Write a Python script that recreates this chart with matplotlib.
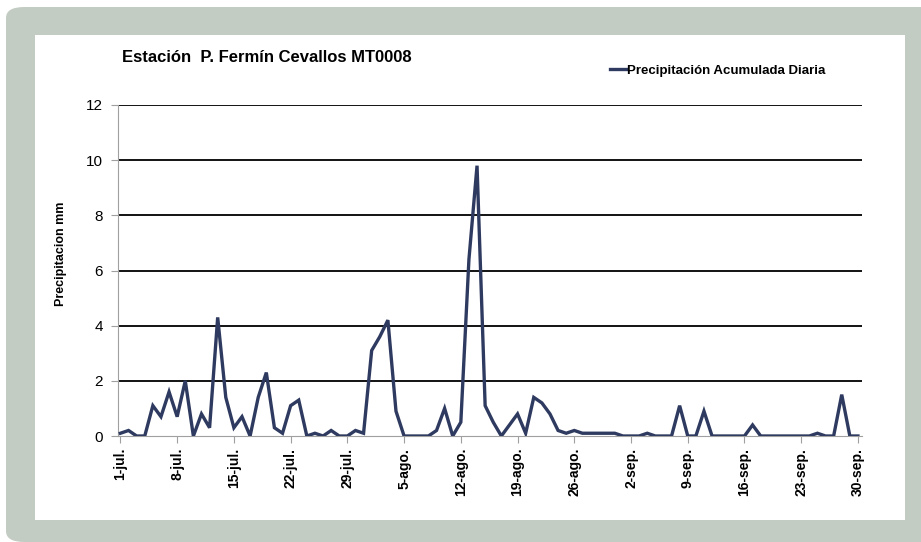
import numpy as np
import matplotlib.pyplot as plt
from matplotlib.patches import FancyBboxPatch, Rectangle

plt.rcParams['font.family'] = ['Liberation Sans Narrow', 'Liberation Sans', 'DejaVu Sans']

# precipitacion diaria, 1-jul a 30-sep (mm)
precip = [0.1, 0.2, 0, 0, 1.1, 0.7, 1.6, 0.7, 2.0, 0,
          0.8, 0.3, 4.3, 1.4, 0.3, 0.7, 0, 1.4, 2.3, 0.3,
          0.1, 1.1, 1.3, 0, 0.1, 0, 0.2, 0, 0, 0.2,
          0.1, 3.1, 3.6, 4.2, 0.9, 0, 0, 0, 0, 0.2,
          1.0, 0, 0.5, 6.4, 9.8, 1.1, 0.5, 0, 0.4, 0.8,
          0.1, 1.4, 1.2, 0.8, 0.2, 0.1, 0.2, 0.1, 0.1, 0.1,
          0.1, 0.1, 0, 0, 0, 0.1, 0, 0, 0, 1.1,
          0, 0, 0.9, 0, 0, 0, 0, 0, 0.4, 0,
          0, 0, 0, 0, 0, 0, 0.1, 0, 0, 1.5,
          0, 0]
tick_labels = ['1-jul.', '8-jul.', '15-jul.', '22-jul.', '29-jul.', '5-ago.',
               '12-ago.', '19-ago.', '26-ago.', '2-sep.', '9-sep.', '16-sep.',
               '23-sep.', '30-sep.']
yticks = [0, 2, 4, 6, 8, 10, 12]

W, H = 921, 542
fig = plt.figure(figsize=(W / 100, H / 100), dpi=100)
fig.patch.set_facecolor('white')

# marco gris y panel blanco
bg = FancyBboxPatch((6 / W, 0), 1.2, (H - 7) / H, boxstyle='round,pad=0,rounding_size=0.02',
                    transform=fig.transFigure, facecolor='#c3ccc3', edgecolor='none', zorder=0)
fig.patches.append(bg)
panel = Rectangle((35 / W, (H - 520) / H), 870 / W, 485 / H, transform=fig.transFigure,
                  facecolor='white', edgecolor='none', zorder=1)
fig.patches.append(panel)

left, right, top, bottom = 118, 862, 105, 436
ax = fig.add_axes([left / W, 1 - bottom / H, (right - left) / W, (bottom - top) / H])
ax.set_facecolor('none')
ax.set_zorder(2)

days = np.arange(len(precip))
ax.plot(days, precip, color='#2e3a5f', lw=2.4, solid_joinstyle='miter', zorder=3,
        label='Precipitación Acumulada Diaria')

ax.set_xlim(-0.3, len(precip) - 1 + 0.5)
ax.set_ylim(0, 12)
ax.set_yticks(yticks)
ax.set_yticklabels([str(v) for v in yticks], fontsize=11)
ax.set_xticks(days[::7])
ax.set_xticklabels(tick_labels, rotation=90, fontsize=10, fontweight='bold')
for v in yticks[1:]:
    ax.axhline(v, color='black', lw=1.3, zorder=1)

for s in ['top', 'right']:
    ax.spines[s].set_visible(False)
ax.spines['left'].set_color('#a0a0a0')
ax.spines['bottom'].set_color('#a0a0a0')
ax.tick_params(axis='both', colors='#a0a0a0', labelcolor='black', length=5)
ax.tick_params(axis='y', pad=6)

ax.set_ylabel('Precipitacion mm', fontsize=9, fontweight='bold')
ax.yaxis.set_label_coords(-0.068, 0.55)

fig.text(122 / W, 1 - 57 / H, 'Estación  P. Fermín Cevallos MT0008', fontsize=12,
         fontweight='bold', va='center', ha='left')
ax.legend(loc='upper left', bbox_to_anchor=(605 / W, 1 - 59 / H), bbox_transform=fig.transFigure,
          frameon=False, prop={'weight': 'bold', 'size': 9.5},
          handlelength=1.2, handletextpad=0.1, borderaxespad=0)

fig.savefig('out.png', dpi=100)
